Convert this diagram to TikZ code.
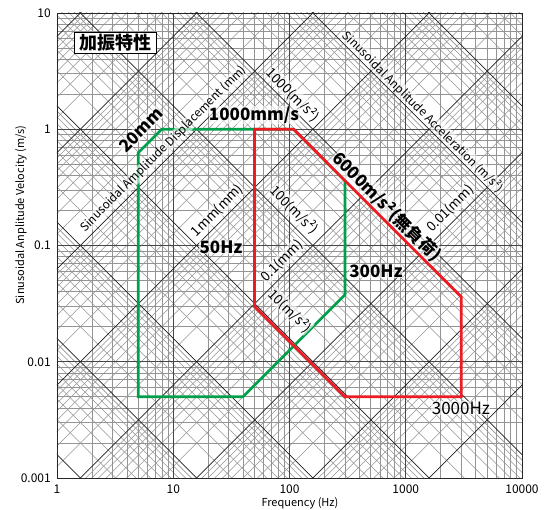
\documentclass[tikz,border=0pt]{standalone}
\usepackage{fontspec}
\setmainfont{Noto Sans CJK JP}
\definecolor{specgreen}{RGB}{0,160,75}
\definecolor{specred}{RGB}{235,28,36}

\begin{document}
\begin{tikzpicture}
        [
            x = 116.25pt, y = 116.25pt,
            minorline/.style = {draw = black!42, line width = 0.6pt},
            decadeline/.style = {draw = black!72, line width = 0.8pt},
            diagline/.style = {draw = black!88, line width = 0.7pt},
            limitline/.style = {line width = 2.8pt},
            halo/.style = {fill = white, fill opacity = 0.6, text opacity = 1, inner sep = 0.4pt},
            ticklabel/.style = {font = \fontsize{12}{14}\selectfont, inner sep = 0pt},
            axistitle/.style = {font = \fontsize{11}{13}\selectfont, inner sep = 0pt},
            diagtitle/.style = {halo, font = \fontsize{11.8}{13}\selectfont},
            linelabel/.style = {halo, font = \fontsize{13.5}{15}\selectfont},
            bigtext/.style = {halo, font = \fontsize{17}{19}\selectfont}
        ]

        \useasboundingbox (-57pt,-32pt) rectangle (490pt,478pt);

        % grid: frequency and velocity
        \foreach \k in {0,...,3}
            \foreach \n in {2,...,9} {
                \draw[minorline] ({\k+log10(\n)},0) -- ++(0,4);
                \draw[minorline] (0,{\k+log10(\n)}) -- ++(4,0);
            }

        \begin{scope}
            \clip (0,0) rectangle (4,4);
            % displacement and acceleration
            \foreach \k in {-4,...,3}
                \foreach \n in {2,...,9}
                    \draw[minorline] (-5,{-5+0.7982+\k+log10(\n)}) -- ++(14,14);
            \foreach \k in {-2,...,5}
                \foreach \n in {2,...,9}
                    \draw[minorline] (-5,{5+2.2018+\k+log10(\n)}) -- ++(14,-14);
            \foreach \k in {1,...,3} {
                \draw[decadeline] (\k,0) -- ++(0,4);
                \draw[decadeline] (0,\k) -- ++(4,0);
            }
            \foreach \k in {-4,...,3}
                \draw[diagline] (-5,{-5+0.7982+\k}) -- ++(14,14);
            \foreach \k in {-2,...,5}
                \draw[diagline] (-5,{5+2.2018+\k}) -- ++(14,-14);
        \end{scope}
        \draw[black!85, line width = 0.9pt] (0,0) rectangle (4,4);

        % scale
        \foreach \v/\t in {0/0.001, 1/0.01, 2/0.1, 3/1, 4/10}
            \node[ticklabel, anchor = east] (v\v) at (-6pt,\v) {\t};
        \foreach \f/\t in {0/1, 1/10, 2/100, 3/1000, 4/10000}
            \node[ticklabel] (f\f) at (\f,-0.095) {\t};
        \node[axistitle, rotate = 90] (vtitle) at (-0.31,2.262) {Sinusoidal Anplitude Velocity (m/s)};
        \node[axistitle] (ftitle) at (2.09,-0.215) {Frequency (Hz)};

        % limits
        \coordinate (g1) at (0.699,0.699);
        \coordinate (g2) at (0.699,2.798);
        \coordinate (g3) at (0.901,3);
        \coordinate (g4) at (2.035,3);
        \coordinate (g5) at (2.477,2.558);
        \coordinate (g6) at (2.477,1.576);
        \coordinate (g7) at (1.600,0.699);
        \coordinate (r1) at (1.699,3);
        \coordinate (r2) at (2.035,3);
        \coordinate (r3) at (3.477,1.558);
        \coordinate (r4) at (3.477,0.699);
        \coordinate (r5) at (2.477,0.699);
        \coordinate (r6) at (1.699,1.477);
        \draw[limitline, specgreen] (g1) -- (g2) -- (g3) -- (g4) -- (g5) -- (g6) -- (g7) -- cycle;
        \draw[limitline, specred] (r1) -- (r2) -- (r3) -- (r4) -- (r5) -- (r6) -- cycle;

        % diagonal scales
        \node[diagtitle, rotate = 45] (dtitle) at (0.916,2.830) {Sinusoidal Amplitude Displacement (mm)};
        \node[diagtitle, rotate = -45] (atitle) at (3.148,3.148) {Sinusoidal Anplitude Acceleration (m/s²)};
        \node[linelabel, rotate = -45] (a1000) at (2.030,3.295) {1000(m/s²)};
        \node[linelabel, rotate = -45] (a100) at (2.039,2.305) {100(m/s²)};
        \node[linelabel, rotate = -45] (a10) at (2.004,1.437) {10(m/s²)};
        \node[linelabel, rotate = 45] (d1) at (1.381,2.301) {1mm(mm)};
        \node[linelabel, rotate = 45] (d01) at (1.935,1.867) {0.1(mm)};
        \node[linelabel, rotate = 45] (d001) at (3.385,2.318) {0.01(mm)};

        % limit labels
        \node[bigtext, rotate = 45] (disp) at (0.723,2.994) {\bf 20mm};
        \node[bigtext] (velo) at (1.695,3.123) {\bf 1000mm/s};
        \node[bigtext, rotate = -45] (accel) at (2.835,2.336) {\bf 6000m/s²(無負荷)};
        \node[bigtext] (flow) at (1.411,1.987) {\bf 50Hz};
        \node[bigtext] (fmid) at (2.744,1.781) {\bf 300Hz};
        \node[bigtext] (fhigh) at (3.475,0.602) {3000Hz};

        \node[draw, fill = white, line width = 0.8pt, font = \fontsize{18}{20}\selectfont, inner xsep = 5pt, inner ysep = 2pt] (title) at (0.499,3.746) {\bf 加振特性};
    \end{tikzpicture}
\end{document}
